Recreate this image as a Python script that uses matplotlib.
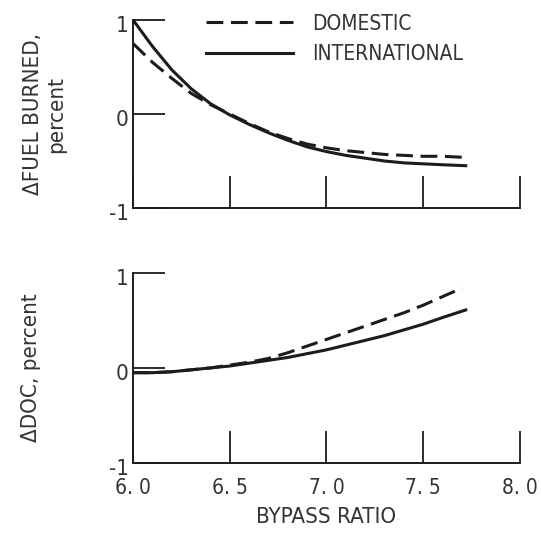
import matplotlib
matplotlib.use("Agg")
import matplotlib.pyplot as plt
from matplotlib.transforms import ScaledTranslation

# Dados (razão de bypass)
bpr_dom = [6.0, 6.1, 6.2, 6.3, 6.4, 6.5, 6.6, 6.7, 6.8, 6.9, 7.0, 7.1, 7.2, 7.3, 7.4, 7.5, 7.6, 7.7]
bpr_int = [6.0, 6.1, 6.2, 6.3, 6.4, 6.5, 6.6, 6.7, 6.8, 6.9, 7.0, 7.1, 7.2, 7.3, 7.4, 7.5, 7.6, 7.72]

fuel_dom = [0.75, 0.55, 0.38, 0.22, 0.10, 0.0, -0.10, -0.19, -0.26, -0.32, -0.36, -0.39, -0.41, -0.43, -0.44, -0.45, -0.45, -0.46]
fuel_int = [1.0, 0.72, 0.47, 0.27, 0.11, -0.01, -0.11, -0.20, -0.28, -0.35, -0.40, -0.44, -0.47, -0.50, -0.52, -0.53, -0.54, -0.55]

doc_dom = [-0.05, -0.05, -0.04, -0.02, 0.0, 0.03, 0.06, 0.10, 0.16, 0.23, 0.30, 0.37, 0.44, 0.51, 0.58, 0.66, 0.75, 0.84]
doc_int = [-0.05, -0.05, -0.04, -0.02, 0.0, 0.02, 0.05, 0.08, 0.11, 0.15, 0.19, 0.24, 0.29, 0.34, 0.40, 0.46, 0.53, 0.61]

x_ticks = [6.0, 6.5, 7.0, 7.5, 8.0]
x_labels = ["6. 0", "6. 5", "7. 0", "7. 5", "8. 0"]
y_ticks = [-1, 0, 1]
y_labels = ["-1", "0", "1"]

cor = "#1c1c1c"
cor_txt = "#333333"
plt.rcParams["font.family"] = ["DejaVu Sans"]

fig = plt.figure(figsize=(5.41, 5.34), dpi=100)
ax1 = fig.add_axes([0.246, 0.6105, 0.715, 0.352])
ax2 = fig.add_axes([0.246, 0.133, 0.715, 0.356])

desloca = ScaledTranslation(0, -3 / 72, fig.dpi_scale_trans)  # rótulos do eixo y um pouco abaixo

for ax in (ax1, ax2):
    ax.set_xlim(6.0, 8.0)
    ax.set_ylim(-1, 1)
    ax.spines["top"].set_visible(False)
    ax.spines["right"].set_visible(False)
    for s in ("left", "bottom"):
        ax.spines[s].set_linewidth(1.4)
        ax.spines[s].set_color(cor)
    ax.set_xticks(x_ticks)
    ax.set_yticks(y_ticks)
    ax.set_yticklabels(y_labels, fontsize=16, color=cor_txt, fontstretch="condensed")
    ax.tick_params(direction="in", length=23, width=1.3, color=cor, pad=3)
    for lab in ax.get_yticklabels():
        lab.set_transform(lab.get_transform() + desloca)

ax1.set_xticklabels([])
ax2.set_xticklabels(x_labels, fontsize=15, color=cor_txt, fontstretch="condensed")
ax2.tick_params(axis="x", pad=11)

# Painel superior: combustível
l1, = ax1.plot(bpr_dom, fuel_dom, color=cor, lw=2.2, dashes=(5.5, 2.5), label="DOMESTIC")
l2, = ax1.plot(bpr_int, fuel_int, color=cor, lw=2.2, label="INTERNATIONAL")

# Painel inferior: DOC
ax2.plot(bpr_dom, doc_dom, color=cor, lw=2.2, dashes=(5.5, 2.5))
ax2.plot(bpr_int, doc_int, color=cor, lw=2.2)

ax1.set_ylabel("\u0394FUEL BURNED,\npercent", fontsize=16, color=cor_txt, labelpad=31,
               fontstretch="condensed", linespacing=1.2)
ax2.set_ylabel("\u0394DOC, percent", fontsize=16, color=cor_txt, labelpad=49,
               fontstretch="condensed")
ax2.set_xlabel("BYPASS RATIO", fontsize=16, color=cor_txt, labelpad=6,
               fontstretch="condensed")

leg = fig.legend(handles=[l1, l2], loc="upper left", bbox_to_anchor=(0.365, 0.99),
                 frameon=False, fontsize=15, handlelength=4.2, handletextpad=0.9,
                 labelspacing=0.5, borderaxespad=0.0)
for t in leg.get_texts():
    t.set_color(cor_txt)
    t.set_fontstretch("condensed")

fig.savefig("out.png", dpi=100)
